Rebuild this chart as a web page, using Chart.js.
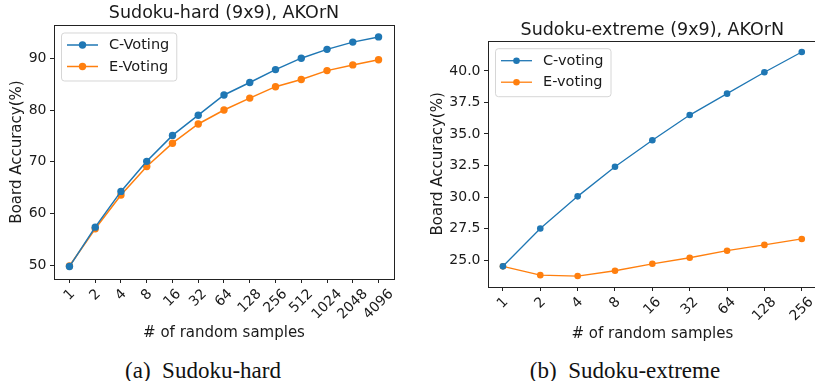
<!DOCTYPE html>
<html>
<head>
<meta charset="utf-8">
<script src="https://cdn.jsdelivr.net/npm/chart.js@4/dist/chart.umd.min.js"></script>
<style>
  body { margin: 0; width: 815px; height: 381px; overflow: hidden; background: #fff; position: relative; }
  canvas { position: absolute; top: 0; }
  #hard { left: 0; }
  #extreme { left: 410px; }
  .cap { position: absolute; top: 359px; height: 23px; line-height: 23px; text-align: center;
         font-family: "Liberation Serif", serif; font-size: 23px; color: #111; white-space: pre; }
</style>
</head>
<body>
<canvas id="hard" width="410" height="345"></canvas>
<canvas id="extreme" width="410" height="345"></canvas>
<div class="cap" style="left:83px;width:240px">(a)  Sudoku-hard</div>
<div class="cap" style="left:505px;width:240px">(b)  Sudoku-extreme</div>
<script>
// sudoku-hard, board accuracy (%) vs number of random samples
const hardSamples = ['1', '2', '4', '8', '16', '32', '64', '128', '256', '512', '1024', '2048', '4096']
const hardCVoting = [49.8, 57.4, 64.3, 70.1, 75.1, 79.0, 82.9, 85.3, 87.8, 90.0, 91.7, 93.1, 94.1]
const hardEVoting = [49.9, 57.1, 63.6, 69.1, 73.6, 77.3, 80.0, 82.3, 84.5, 85.9, 87.6, 88.7, 89.7]
const hardYTicks = [50, 60, 70, 80, 90]

// sudoku-extreme
const extSamples = ['1', '2', '4', '8', '16', '32', '64', '128', '256']
const extCVoting = [24.5, 27.5, 30.05, 32.4, 34.5, 36.5, 38.2, 39.9, 41.5]
const extEVoting = [24.5, 23.8, 23.73, 24.15, 24.7, 25.18, 25.74, 26.2, 26.67]
const extYTicks = [25, 27.5, 30, 32.5, 35, 37.5, 40]

const BLUE = '#1f77b4'
const ORANGE = '#ff7f0e'
const FONT = '"DejaVu Sans", sans-serif'
const INK = '#1a1a1a'

// box round the plot, title over the plot, rotated x labels, framed legend
const mplBits = {
  id: 'mplBits',
  afterDraw(chart, args, o) {
    const ctx = chart.ctx
    const a = chart.chartArea
    const xs = chart.scales.x
    ctx.save()
    ctx.strokeStyle = '#222'
    ctx.lineWidth = 1
    ctx.strokeRect(Math.round(a.left) + 0.5, Math.round(a.top) + 0.5,
      Math.round(a.right - a.left), Math.round(a.bottom - a.top))

    // title centred on the axes
    ctx.font = o.titleSize + 'px ' + FONT
    ctx.fillStyle = INK
    ctx.textAlign = 'center'
    ctx.textBaseline = 'middle'
    ctx.fillText(o.title, (a.left + a.right) / 2, o.titleY)

    // x tick labels, rotated 45deg and centred under the tick
    ctx.font = '14px ' + FONT
    o.labels.forEach((lab, i) => {
      const w = ctx.measureText(lab).width
      const h = 16.3
      const x = xs.getPixelForValue(i)
      const y = a.bottom + 7 + (w + h) * 0.3536
      ctx.save()
      ctx.translate(x, y)
      ctx.rotate(-Math.PI / 4)
      ctx.fillText(lab, 0, 0)
      ctx.restore()
    })

    // legend
    ctx.font = '14.5px ' + FONT
    const sets = chart.data.datasets
    const tw = Math.max(...sets.map(d => ctx.measureText(d.label).width))
    const bx = a.left + 7, by = a.top + 7.5
    const bw = 48 + tw + 7, bh = 48
    ctx.beginPath()
    ctx.roundRect(bx + 0.5, by + 0.5, bw, bh, 3)
    ctx.fillStyle = 'rgba(255,255,255,0.8)'
    ctx.fill()
    ctx.strokeStyle = 'rgba(204,204,204,0.8)'
    ctx.stroke()
    sets.forEach((d, i) => {
      const ry = by + 12.5 + i * 21.5
      ctx.strokeStyle = d.borderColor
      ctx.lineWidth = d.borderWidth
      ctx.beginPath()
      ctx.moveTo(bx + 6, ry)
      ctx.lineTo(bx + 37, ry)
      ctx.stroke()
      ctx.fillStyle = d.borderColor
      ctx.beginPath()
      ctx.arc(bx + 21.5, ry, d.pointRadius, 0, Math.PI * 2)
      ctx.fill()
      ctx.fillStyle = INK
      ctx.textAlign = 'left'
      ctx.fillText(d.label, bx + 48, ry + 0.5)
    })
    ctx.restore()
  }
}

function series(label, values, color, lw, r) {
  return {
    label: label,
    data: values.map((v, i) => ({ x: i, y: v })),
    borderColor: color,
    backgroundColor: color,
    borderWidth: lw,
    pointRadius: r,
    pointBorderWidth: 0,
    pointHoverRadius: r,
    tension: 0
  }
}

function makeChart(id, cfg) {
  return new Chart(document.getElementById(id), {
    type: 'line',
    data: {
      datasets: [
        series(cfg.names[0], cfg.c, BLUE, cfg.lw, cfg.r),
        series(cfg.names[1], cfg.e, ORANGE, cfg.lw, cfg.r)
      ]
    },
    plugins: [mplBits],
    options: {
      responsive: false,
      animation: false,
      events: [],
      layout: { padding: cfg.pad },
      plugins: {
        legend: { display: false },
        tooltip: { enabled: false },
        title: { display: false },
        mplBits: { labels: cfg.labels, title: cfg.title, titleSize: cfg.titleSize, titleY: cfg.titleY }
      },
      scales: {
        x: {
          type: 'linear',
          min: -0.05 * (cfg.labels.length - 1),
          max: 1.05 * (cfg.labels.length - 1),
          border: { display: false },
          grid: { drawOnChartArea: false, drawTicks: true, tickLength: 4, color: '#222' },
          ticks: { display: false },
          afterBuildTicks: s => { s.ticks = cfg.labels.map((_, i) => ({ value: i })) },
          afterFit: s => { s.height = cfg.xHeight },
          title: {
            display: true,
            text: '# of random samples',
            color: INK,
            font: { family: FONT, size: 15, lineHeight: 1.2 },
            padding: { top: 0, bottom: cfg.xTitlePad }
          }
        },
        y: {
          min: cfg.yMin,
          max: cfg.yMax,
          border: { display: false },
          grid: { drawOnChartArea: false, drawTicks: true, tickLength: 4, color: '#222' },
          afterBuildTicks: s => { s.ticks = cfg.yTicks.map(v => ({ value: v })) },
          afterFit: s => { s.width = cfg.yWidth },
          ticks: {
            color: INK,
            padding: 3.5,
            font: { family: FONT, size: 14 },
            callback: v => v.toFixed(cfg.dec)
          },
          title: {
            display: true,
            text: 'Board Accuracy(%)',
            color: INK,
            font: { family: FONT, size: 15, lineHeight: 1.2 },
            padding: { top: cfg.yTitlePad, bottom: 0 }
          }
        }
      }
    }
  })
}

makeChart('hard', {
  title: 'Sudoku-hard (9x9), AKOrN', titleSize: 17.5, titleY: 13,
  names: ['C-Voting', 'E-Voting'],
  c: hardCVoting, e: hardEVoting, labels: hardSamples, yTicks: hardYTicks,
  yMin: 47.4, yMax: 96.4, dec: 0,
  lw: 1.5, r: 3.7,
  pad: { left: 0, right: 16, top: 25, bottom: 0 },
  xHeight: 66, xTitlePad: 3, yWidth: 54, yTitlePad: 8
})

makeChart('extreme', {
  title: 'Sudoku-extreme (9x9), AKOrN', titleSize: 17.5, titleY: 30,
  names: ['C-voting', 'E-voting'],
  c: extCVoting, e: extEVoting, labels: extSamples, yTicks: extYTicks,
  yMin: 22.86, yMax: 42.4, dec: 1,
  lw: 1.3, r: 3.3,
  pad: { left: 0, right: 1.7, top: 40.7, bottom: 0 },
  xHeight: 58, xTitlePad: 2, yWidth: 78, yTitlePad: 19
})
</script>
</body>
</html>
